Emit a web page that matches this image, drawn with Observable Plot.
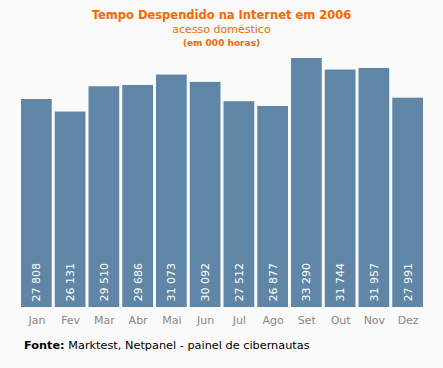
<!DOCTYPE html>
<html><head><meta charset="utf-8">
<script src="https://cdn.jsdelivr.net/npm/d3@7"></script>
<script src="https://cdn.jsdelivr.net/npm/@observablehq/plot@0.6"></script>
<style>
html,body{margin:0;padding:0;background:#fafafa;}
#wrap{position:relative;width:443px;height:368px;overflow:hidden;background:#fafafa;font-family:"DejaVu Sans",Verdana,sans-serif;}
.t{position:absolute;left:0;width:443px;text-align:center;color:#ff6600;white-space:nowrap;}
#title{top:8px;font-size:11.5px;font-weight:bold;}
#sub{top:23px;font-size:11px;}
#unit{top:38px;font-size:9px;font-weight:bold;}
#src{position:absolute;left:24px;top:339px;font-size:11.3px;color:#000;white-space:nowrap;}
#chart{position:absolute;left:0;top:0;}
</style></head>
<body><div id="wrap">
<div id="chart"></div>
<div class="t" id="title">Tempo Despendido na Internet em 2006</div>
<div class="t" id="sub">acesso doméstico</div>
<div class="t" id="unit">(em 000 horas)</div>
<div id="src"><b>Fonte:</b> Marktest, Netpanel - painel de cibernautas</div>
</div>
<script>
const months = ["Jan","Fev","Mar","Abr","Mai","Jun","Jul","Ago","Set","Out","Nov","Dez"];
const hours = [27808,26131,29510,29686,31073,30092,27512,26877,33290,31744,31957,27991];

const data = months.map((m,i)=>({month:m, value:hours[i]}));
const fmt = v => d3.format(",")(v).replace(/,/g," ");

const chart = Plot.plot({
  width: 443,
  height: 335,
  marginLeft: 19.5,
  marginRight: 18.5,
  marginTop: 58,
  marginBottom: 28,
  style: {background:"transparent", fontFamily:"'DejaVu Sans', Verdana, sans-serif", fontSize:"11px"},
  x: {domain: months, paddingInner: 0.09, paddingOuter: 0.045, round: false, label: null},
  y: {domain: [0, 33290], axis: null},
  marks: [
    Plot.barY(data, {x:"month", y:"value", fill:"#5f86a6"}),
    Plot.text(data, {x:"month", y:0, text:d=>fmt(d.value), rotate:-90, textAnchor:"start", lineAnchor:"middle", dy:-6, fill:"white", fontSize:11}),
    Plot.axisX({tickSize:0, tickPadding:9, color:"#888", fontSize:11, label:null})
  ]
});
document.getElementById("chart").appendChild(chart);
</script>
</body></html>
